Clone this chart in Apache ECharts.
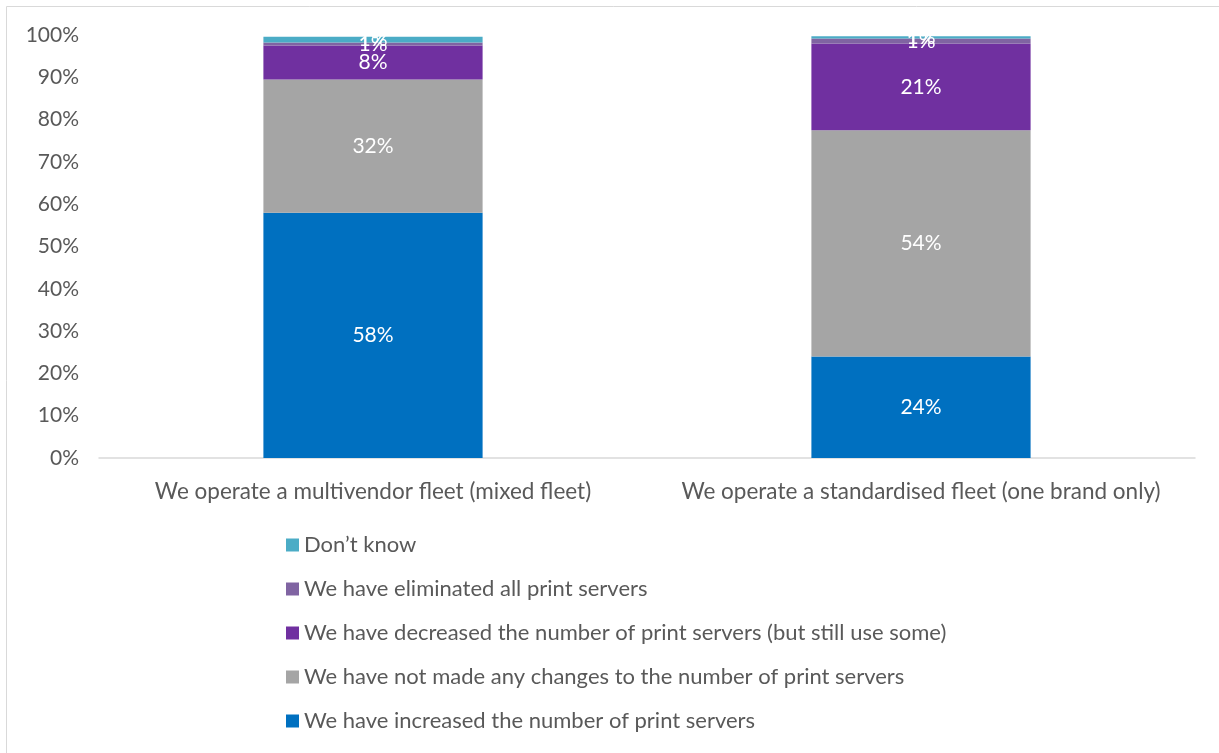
<!DOCTYPE html>
<html>
<head>
<meta charset="utf-8">
<script src="https://cdn.jsdelivr.net/npm/echarts@6/dist/echarts.min.js"></script>
<style>
  html, body { margin: 0; padding: 0; background: #fff; }
  #chart { width: 1219px; height: 753px; }
</style>
</head>
<body>
<div id="chart"></div>
<script>
const categories = ['We operate a multivendor fleet (mixed fleet)', 'We operate a standardised fleet (one brand only)'];
const increased = [58, 24];
const noChange = [31.5, 53.5];
const decreased = [8, 20.5];
const eliminated = [0.7, 1.2];
const dontKnow = [1.4, 0.5];
const yTicks = [0, 10, 20, 30, 40, 50, 60, 70, 80, 90, 100];

const names = [
    'We have increased the number of print servers',
    'We have not made any changes to the number of print servers',
    'We have decreased the number of print servers (but still use some)',
    'We have eliminated all print servers',
    'Don\u2019t know'
];
const colors = ['#0070C0', '#A5A5A5', '#7030A0', '#8064A2', '#4BACC6'];
const values = [increased, noChange, decreased, eliminated, dontKnow];
const font = 'Lato, "Open Sans", sans-serif';

const chart = echarts.init(document.getElementById('chart'));

chart.setOption({
    animation: false,
    textStyle: { fontFamily: font },
    graphic: [{
        type: 'rect',
        shape: { x: 6.5, y: 6.5, width: 1230, height: 760 },
        style: { fill: 'none', stroke: '#d9d9d9', lineWidth: 1 }
    }],
    grid: { left: 99, right: 24, top: 35, bottom: 295 },
    xAxis: {
        type: 'category',
        data: categories,
        axisTick: { show: false },
        axisLine: { lineStyle: { color: '#d9d9d9', width: 1.5 } },
        axisLabel: {
            color: '#595959', fontSize: 22.5, margin: 22, fontFamily: font,
            interval: 0, hideOverlap: false
        }
    },
    yAxis: {
        type: 'value',
        min: 0,
        max: 100,
        interval: 10,
        splitLine: { show: false },
        axisLine: { show: false },
        axisLabel: {
            color: '#595959', fontSize: 21, margin: 20, fontFamily: font,
            formatter: v => yTicks.includes(v) ? v + '%' : ''
        }
    },
    legend: {
        orient: 'vertical',
        left: 281,
        top: 529,
        itemGap: 22,
        itemWidth: 13,
        itemHeight: 13,
        icon: 'rect',
        data: names.slice().reverse(),
        textStyle: { color: '#595959', fontSize: 22, fontFamily: font }
    },
    series: names.map((n, i) => ({
        name: n,
        type: 'bar',
        stack: 'total',
        barWidth: '40%',
        data: values[i],
        itemStyle: { color: colors[i] },
        label: {
            show: true,
            position: 'inside',
            color: '#fff',
            fontSize: 21,
            fontFamily: font,
            formatter: p => Math.round(p.value) + '%'
        }
    }))
});
</script>
</body>
</html>
